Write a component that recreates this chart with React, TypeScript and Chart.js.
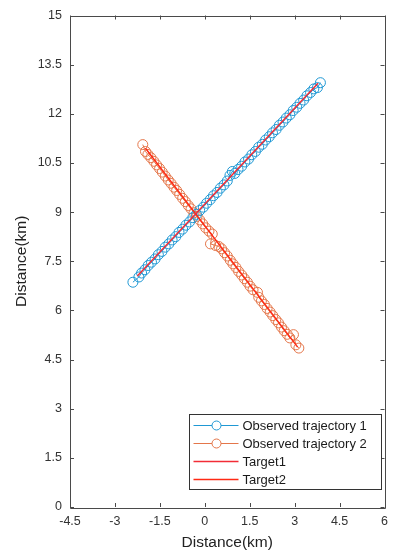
import React, { useEffect, useRef } from "react";
import { Chart, registerables } from "chart.js";

Chart.register(...registerables);

// Observed trajectory 1 (km)
const traj1X = [-2.40, -2.20, -2.11, -2.00, -1.89, -1.78, -1.66, -1.55, -1.43, -1.32, -1.20, -1.09, -0.97, -0.86, -0.74, -0.63, -0.51, -0.40, -0.28, -0.17, -0.05, 0.06, 0.18, 0.29, 0.41, 0.52, 0.64, 0.75, 0.84, 0.92, 1.00, 1.11, 1.23, 1.34, 1.46, 1.57, 1.69, 1.80, 1.92, 2.03, 2.15, 2.26, 2.38, 2.49, 2.61, 2.72, 2.84, 2.95, 3.07, 3.18, 3.30, 3.41, 3.53, 3.64, 3.76, 3.86];
const traj1Y = [6.86, 7.02, 7.14, 7.24, 7.37, 7.47, 7.57, 7.70, 7.80, 7.93, 8.03, 8.15, 8.25, 8.38, 8.48, 8.60, 8.70, 8.83, 8.93, 9.05, 9.15, 9.27, 9.38, 9.50, 9.60, 9.73, 9.83, 9.95, 10.12, 10.24, 10.18, 10.30, 10.40, 10.53, 10.62, 10.75, 10.85, 10.98, 11.07, 11.20, 11.30, 11.42, 11.52, 11.65, 11.75, 11.87, 11.97, 12.10, 12.20, 12.32, 12.42, 12.55, 12.65, 12.76, 12.80, 12.95];

// Observed trajectory 2 (km)
const traj2X = [-2.07, -1.98, -1.90, -1.80, -1.70, -1.61, -1.51, -1.42, -1.32, -1.22, -1.13, -1.03, -0.94, -0.84, -0.74, -0.65, -0.55, -0.46, -0.36, -0.26, -0.17, -0.07, 0.03, 0.14, 0.25, 0.19, 0.36, 0.47, 0.56, 0.66, 0.75, 0.85, 0.94, 1.04, 1.13, 1.23, 1.32, 1.42, 1.51, 1.61, 1.76, 1.80, 1.89, 1.99, 2.08, 2.18, 2.27, 2.37, 2.46, 2.56, 2.65, 2.75, 2.84, 2.96, 3.04, 3.14];
const traj2Y = [11.06, 10.85, 10.76, 10.66, 10.55, 10.44, 10.33, 10.22, 10.10, 9.98, 9.88, 9.76, 9.66, 9.54, 9.42, 9.32, 9.20, 9.10, 8.98, 8.87, 8.76, 8.64, 8.52, 8.42, 8.33, 8.03, 7.98, 7.95, 7.88, 7.76, 7.66, 7.53, 7.42, 7.31, 7.19, 7.08, 6.97, 6.86, 6.74, 6.63, 6.55, 6.40, 6.29, 6.18, 6.06, 5.95, 5.84, 5.72, 5.62, 5.49, 5.38, 5.27, 5.16, 5.26, 4.95, 4.85];

// True targets (km)
const target1X = [-2.25, 3.78];
const target1Y = [7.05, 12.93];
const target2X = [-1.98, 3.10];
const target2Y = [10.95, 4.88];

const xTicks = [-4.5, -3, -1.5, 0, 1.5, 3, 4.5, 6];
const yTicks = [0, 1.5, 3, 4.5, 6, 7.5, 9, 10.5, 12, 13.5, 15];

const seriesNames = ["Observed trajectory 1", "Observed trajectory 2", "Target1", "Target2"];

const BLUE = "#1f98d4";
const ORANGE = "#e4764a";
const RED1 = "#f22c36";
const RED2 = "#ff2a14";
const AXIS = "#4a4a4a";
const FONT = "'Liberation Sans', Arial, sans-serif";

const zip = (xs: number[], ys: number[]) => xs.map((x, i) => ({ x, y: ys[i] }));

const framePlugin = {
  id: "frame",
  afterDraw(chart: any) {
    const { ctx, chartArea } = chart;
    const { left, right, top, bottom } = chartArea;
    const xs = chart.scales.x;
    const ys = chart.scales.y;
    ctx.save();
    ctx.strokeStyle = AXIS;
    ctx.lineWidth = 1;
    ctx.beginPath();
    ctx.rect(Math.round(left) + 0.5, Math.round(top) + 0.5, Math.round(right - left), Math.round(bottom - top));
    ctx.stroke();
    const tl = 4;
    ctx.beginPath();
    xTicks.forEach((v) => {
      const px = Math.round(xs.getPixelForValue(v)) + 0.5;
      ctx.moveTo(px, bottom);
      ctx.lineTo(px, bottom - tl);
      ctx.moveTo(px, top);
      ctx.lineTo(px, top + tl);
    });
    yTicks.forEach((v) => {
      const py = Math.round(ys.getPixelForValue(v)) + 0.5;
      ctx.moveTo(left, py);
      ctx.lineTo(left + tl, py);
      ctx.moveTo(right, py);
      ctx.lineTo(right - tl, py);
    });
    ctx.stroke();

    // legend box inside plot (bottom-right)
    const bw = 192;
    const bh = 75;
    const bx = Math.round(right - 4 - bw) + 0.5;
    const by = Math.round(bottom - 18 - bh) + 0.5;
    ctx.fillStyle = "#ffffff";
    ctx.fillRect(bx, by, bw, bh);
    ctx.strokeStyle = "#333333";
    ctx.lineWidth = 1;
    ctx.strokeRect(bx, by, bw, bh);
    ctx.font = `13px ${FONT}`;
    ctx.textBaseline = "middle";
    ctx.textAlign = "left";
    chart.data.datasets.forEach((ds: any, i: number) => {
      const cy = by + 11 + i * 18;
      ctx.strokeStyle = ds.borderColor;
      ctx.lineWidth = ds.borderWidth;
      ctx.beginPath();
      ctx.moveTo(bx + 4, cy);
      ctx.lineTo(bx + 49, cy);
      ctx.stroke();
      if (ds.pointRadius > 0) {
        ctx.lineWidth = 1;
        ctx.beginPath();
        ctx.arc(bx + 27, cy, 4.5, 0, Math.PI * 2);
        ctx.fillStyle = "#ffffff";
        ctx.fill();
        ctx.strokeStyle = ds.pointBorderColor;
        ctx.stroke();
      }
      ctx.fillStyle = "#1a1a1a";
      ctx.fillText(ds.label, bx + 53, cy + 1);
    });
    ctx.restore();
  },
};

export default function App() {
  const ref = useRef<HTMLCanvasElement | null>(null);

  useEffect(() => {
    document.body.style.margin = "0";
    if (!ref.current) return;
    const fmt = (v: any) => String(Math.round(Number(v) * 10) / 10);
    const chart = new Chart(ref.current, {
      type: "scatter",
      data: {
        datasets: [
          {
            label: seriesNames[0],
            data: zip(traj1X, traj1Y),
            showLine: true,
            borderColor: BLUE,
            borderWidth: 1,
            pointRadius: 5,
            pointBorderWidth: 1,
            pointBorderColor: BLUE,
            pointBackgroundColor: "rgba(0,0,0,0)",
            order: 2,
          },
          {
            label: seriesNames[1],
            data: zip(traj2X, traj2Y),
            showLine: true,
            borderColor: ORANGE,
            borderWidth: 1,
            pointRadius: 5,
            pointBorderWidth: 1,
            pointBorderColor: ORANGE,
            pointBackgroundColor: "rgba(0,0,0,0)",
            order: 2,
          },
          {
            label: seriesNames[2],
            data: zip(target1X, target1Y),
            showLine: true,
            borderColor: RED1,
            backgroundColor: RED1,
            borderWidth: 1.5,
            pointRadius: 0,
            order: 1,
          },
          {
            label: seriesNames[3],
            data: zip(target2X, target2Y),
            showLine: true,
            borderColor: RED2,
            backgroundColor: RED2,
            borderWidth: 1.5,
            pointRadius: 0,
            order: 1,
          },
        ] as any,
      },
      options: {
        animation: false,
        responsive: false,
        layout: { padding: { top: 14, right: 5, left: 0, bottom: 0 } },
        plugins: { legend: { display: false }, tooltip: { enabled: false } },
        scales: {
          x: {
            type: "linear",
            min: -4.5,
            max: 6,
            afterBuildTicks: (s: any) => {
              s.ticks = xTicks.map((v) => ({ value: v }));
            },
            afterFit: (s: any) => {
              s.height = 50;
            },
            ticks: {
              callback: fmt,
              padding: 7,
              color: "#333333",
              font: { family: FONT, size: 12.5 },
              maxRotation: 0,
              autoSkip: false,
            },
            grid: { display: false, drawTicks: false },
            border: { display: false },
            title: {
              display: true,
              text: "Distance(km)",
              color: "#222222",
              font: { family: FONT, size: 15.5 },
              padding: { top: 0, bottom: 5 },
            },
          },
          y: {
            type: "linear",
            min: 0,
            max: 15,
            afterBuildTicks: (s: any) => {
              s.ticks = yTicks.map((v) => ({ value: v }));
            },
            afterFit: (s: any) => {
              s.width = 70;
            },
            ticks: {
              callback: fmt,
              padding: 8,
              color: "#333333",
              font: { family: FONT, size: 12.5 },
              autoSkip: false,
            },
            grid: { display: false, drawTicks: false },
            border: { display: false },
            title: {
              display: true,
              text: "Distance(km)",
              color: "#222222",
              font: { family: FONT, size: 15.5 },
              padding: { top: 12, bottom: 0 },
            },
          },
        },
      },
      plugins: [framePlugin],
    });
    return () => chart.destroy();
  }, []);

  return (
    <div style={{ width: 395, height: 557, background: "#fff" }}>
      <canvas ref={ref} width={395} height={557} style={{ display: "block" }} />
    </div>
  );
}
